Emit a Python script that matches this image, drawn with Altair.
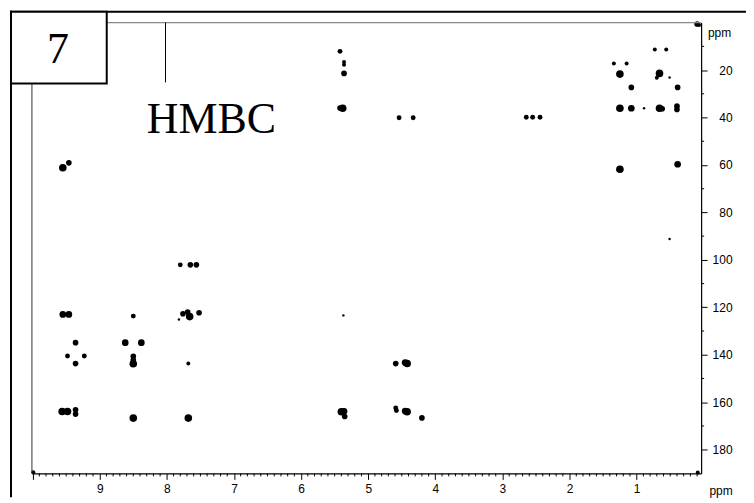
import altair as alt
import pandas as pd

# HMBC cross peaks: 1H shift (ppm), 13C shift (ppm), relative intensity class
h_ppm = [0.73, 0.56, 1.34, 1.15, 1.25, 0.66, 0.70, 0.51, 1.08, 0.39,
         1.25, 1.08, 0.89, 0.66, 0.62, 0.40, 0.40, 1.25, 0.39, 0.51,
         0.10, 0.07, 2.645, 2.55, 2.44, 5.42, 5.36, 5.36, 5.36, 5.38,
         5.42, 4.54, 4.33,
         9.55, 9.46, 9.55, 9.46, 9.36, 9.48, 9.23, 9.36, 9.56, 9.48,
         9.36, 9.36,
         8.50, 8.62, 8.38, 8.50, 8.50, 8.50, 8.50,
         7.80, 7.65, 7.56, 7.76, 7.69, 7.66, 7.52, 7.82, 7.68, 7.68,
         5.37, 4.59, 4.42, 4.45, 5.40, 5.36, 5.35, 4.59, 4.58, 4.42,
         4.45, 4.20,
         9.99, 0.09]
c_ppm = [11.3, 11.3, 17.2, 17.2, 21.7, 21.4, 23.2, 23.1, 27.3, 27.3,
         36.1, 36.1, 36.1, 36.1, 36.3, 35.2, 36.6, 61.8, 59.7, 91.2,
         0.6, 1.0, 39.9, 39.9, 39.9, 12.1, 16.6, 17.8, 21.4, 36.1,
         36.0, 40.1, 40.1,
         61.2, 59.1, 123.0, 123.0, 134.9, 140.5, 140.5, 143.7, 163.9, 163.9,
         163.2, 165.0,
         123.7, 134.9, 134.9, 140.6, 142.2, 143.8, 166.7,
         102.1, 102.1, 102.1, 122.7, 122.0, 123.9, 122.3, 125.1, 143.7, 166.7,
         123.4, 143.7, 143.7, 143.3, 164.0, 163.8, 166.0, 162.4, 163.5, 164.0,
         163.7, 166.6,
         189.5, 189.6]
intensity = [2, 2, 2, 2, 4, 4, 2, 1, 3, 3,
             4, 3.5, 1, 4, 3, 3, 3, 4, 3.5, 1,
             3, 2, 2.5, 2.5, 2.5, 2.5, 2, 2, 3, 4,
             3, 2.5, 2.5,
             4, 3, 3.5, 3.5, 3, 2.5, 2.5, 3, 4, 4,
             3, 3,
             2.5, 3.5, 3.5, 3, 3, 4, 4,
             2.5, 3, 3, 3, 3, 4, 3, 1, 2, 4,
             1, 3, 4, 3.5, 4, 3.5, 3, 2.5, 2.5, 4,
             3.5, 3,
             2, 2]

# projection spike at the top (1H ppm, 13C from/to)
spike_h = [8.02]
spike_c = [0.0]
spike_c2 = [25.2]

# axis ticks
x_major = [1, 2, 3, 4, 5, 6, 7, 8, 9, 10]
x_minor = [round(0.1 * k, 1) for k in range(1, 101) if k % 10 != 0]
y_major = [20, 40, 60, 80, 100, 120, 140, 160, 180]
y_minor = [10, 30, 50, 70, 90, 110, 130, 150, 170]

peaks = pd.DataFrame({"h": h_ppm, "c": c_ppm, "i": intensity})
spike = pd.DataFrame({"h": spike_h, "c": spike_c, "c2": spike_c2})
xminor_df = pd.DataFrame({"h": x_minor})
yminor_df = pd.DataFrame({"c": y_minor})

W, H = 671, 452
x_scale = alt.Scale(domain=[0.04, 10.01], reverse=True, nice=False, zero=False)
y_scale = alt.Scale(domain=[0, 190], reverse=True, nice=False, zero=False)

x_axis = alt.Axis(
    values=x_major,
    labelExpr="datum.value < 9.5 ? datum.label : ''",
    tickSize=6, title=None, grid=False, labelOverlap=False, labelFlush=False,
    labelFont="Liberation Sans", labelFontSize=12, labelColor="black",
    labelPadding=4, domainColor="black", domainWidth=1.2,
    tickColor="black", tickWidth=1, zindex=1,
)
y_axis = alt.Axis(
    orient="right", values=y_major,
    tickSize=6, title=None, grid=False, labelOverlap=False, labelFlush=False,
    labelFont="Liberation Sans", labelFontSize=12, labelColor="black",
    labelAlign="right", labelPadding=25, domainColor="black", domainWidth=1.2,
    tickColor="black", tickWidth=1, zindex=1,
)

X = lambda: alt.X("h:Q", scale=x_scale, axis=x_axis)
Y = lambda: alt.Y("c:Q", scale=y_scale, axis=y_axis)

peak_layer = alt.Chart(peaks).mark_circle(color="black", opacity=1).encode(
    x=X(), y=Y(),
    size=alt.Size("i:Q", scale=alt.Scale(domain=[1, 2, 3, 4], range=[6, 16, 32, 58]), legend=None),
)

spike_layer = alt.Chart(spike).mark_rule(color="black", strokeWidth=1).encode(
    x=X(), y=Y(), y2="c2:Q"
)

xminor_layer = alt.Chart(xminor_df).mark_rule(color="black", strokeWidth=1).encode(
    x=X(), y=alt.value(H), y2=alt.value(H + 3)
)
yminor_layer = alt.Chart(yminor_df).mark_rule(color="black", strokeWidth=1).encode(
    y=Y(), x=alt.value(W), x2=alt.value(W + 3)
)

base = alt.Chart(alt.Data(values=[{}]))
outer_top = base.mark_rule(color="black", strokeWidth=2).encode(
    x=alt.value(-22), x2=alt.value(716), y=alt.value(-11))
outer_left = base.mark_rule(color="black", strokeWidth=2).encode(
    x=alt.value(-21), y=alt.value(-12), y2=alt.value(476))
plot_top = base.mark_rule(color="#888888", strokeWidth=1.5).encode(
    x=alt.value(0), x2=alt.value(W), y=alt.value(0))
plot_left = base.mark_rule(color="#333333", strokeWidth=1).encode(
    x=alt.value(0), y=alt.value(0), y2=alt.value(H))
box = base.mark_rect(fill="white", stroke="black", strokeWidth=2).encode(
    x=alt.value(-21), x2=alt.value(75), y=alt.value(-11), y2=alt.value(61))
seven = base.mark_text(text="7", font="Liberation Serif", fontSize=44, color="black",
                       align="center", baseline="alphabetic").encode(
    x=alt.value(26), y=alt.value(40))
hmbc = base.mark_text(text="HMBC", font="Liberation Serif", fontSize=44, color="black",
                      align="center", baseline="alphabetic").encode(
    x=alt.value(180), y=alt.value(111))
ppm_x = base.mark_text(text="ppm", font="Liberation Sans", fontSize=12, color="black",
                       align="center", baseline="middle").encode(
    x=alt.value(691), y=alt.value(470))
ppm_y = base.mark_text(text="ppm", font="Liberation Sans", fontSize=12, color="black",
                       align="center", baseline="middle").encode(
    x=alt.value(689.5), y=alt.value(10.5))

chart = alt.layer(
    peak_layer, outer_top, outer_left, plot_top, plot_left, xminor_layer, yminor_layer,
    spike_layer, box, seven, hmbc, ppm_x, ppm_y
).properties(
    width=W, height=H,
    autosize=alt.AutoSizeParams(type="none"),
    padding={"left": 24, "top": 14, "right": 45, "bottom": 24},
    background="white",
).configure_view(strokeWidth=0)

chart.save("out.html", embed_options={"renderer": "svg", "actions": False})
